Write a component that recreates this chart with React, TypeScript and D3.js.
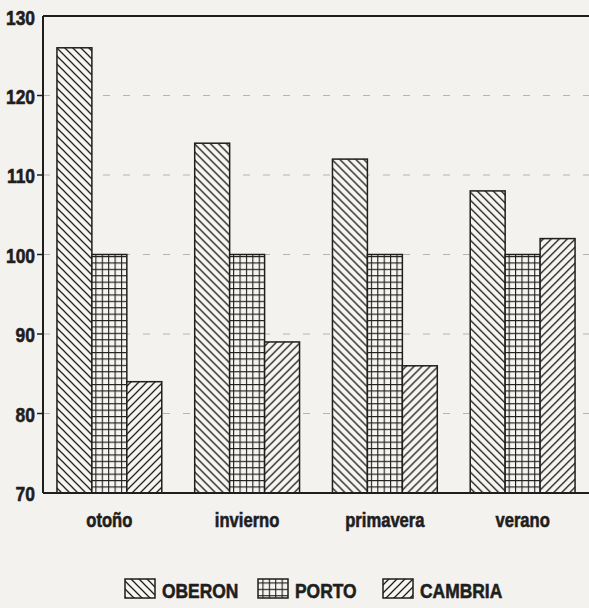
import React from "react";
import * as d3 from "d3";

const categories = ["otoño", "invierno", "primavera", "verano"];
const seriesNames = ["OBERON", "PORTO", "CAMBRIA"];
const oberon = [126, 114, 112, 108];
const porto = [100, 100, 100, 100];
const cambria = [84, 89, 86, 102];
const yTicks = [70, 80, 90, 100, 110, 120, 130];

const W = 589;
const H = 608;
const left = 43;
const top = 16;
const bottom = 493;
const right = 592;
const ink = "#1e1e1e";
const FONT = "'Liberation Sans', Arial, sans-serif";
const SX = 0.83;

function NarrowText(props: { x: number; y: number; size: number; anchor?: string; children: React.ReactNode }) {
  return (
    <text
      transform={`translate(${props.x},${props.y}) scale(${SX},1)`}
      textAnchor={props.anchor ?? "start"}
      fontFamily={FONT}
      fontWeight="bold"
      fontSize={props.size}
      fill={ink}
      stroke={ink}
      strokeWidth={0.6}
    >
      {props.children}
    </text>
  );
}

export default function App() {
  const values = [oberon, porto, cambria];
  const x = d3.scaleBand<string>().domain(categories).range([40, right]).paddingInner(0.239).paddingOuter(0.123);
  const xs = d3.scaleBand<string>().domain(seriesNames).range([0, x.bandwidth()]);
  const y = d3.scaleLinear().domain([70, 130]).range([bottom, top]);
  const patterns = ["pOb", "pPo", "pCa"];
  const legendX = [125, 258, 383];

  return (
    <div style={{ position: "fixed", left: 0, top: 0 }}>
      <svg width={W} height={H} style={{ display: "block", background: "#f4f2ee" }}>
        <defs>
          <pattern id="pOb" patternUnits="userSpaceOnUse" width={8} height={8}>
            <rect width={8} height={8} fill="#f7f5f1" />
            <path d="M-2,-2 L10,10 M-2,6 L2,10 M6,-2 L10,2" stroke={ink} strokeWidth={1.3} />
          </pattern>
          <pattern id="pPo" patternUnits="userSpaceOnUse" width={6.4} height={6.4}>
            <rect width={6.4} height={6.4} fill="#f7f5f1" />
            <path d="M0,0.5 H6.4 M0.5,0 V6.4" stroke={ink} strokeWidth={1.2} />
          </pattern>
          <pattern id="pCa" patternUnits="userSpaceOnUse" width={8} height={8}>
            <rect width={8} height={8} fill="#f7f5f1" />
            <path d="M-2,10 L10,-2 M-2,2 L2,-2 M6,10 L10,6" stroke={ink} strokeWidth={1.3} />
          </pattern>
        </defs>

        {/* grid lines */}
        {yTicks.slice(1, -1).map((t) => (
          <line key={"g" + t} x1={left} x2={W} y1={y(t)} y2={y(t)} stroke="#b4b4b4" strokeWidth={1} strokeDasharray="7,13" />
        ))}

        {/* bars */}
        {categories.map((c, i) => (
          <g key={c} transform={`translate(${x(c)},0)`}>
            {seriesNames.map((s, k) => (
              <rect
                key={s}
                x={xs(s)}
                y={y(values[k][i])}
                width={xs.bandwidth()}
                height={bottom - y(values[k][i])}
                fill={`url(#${patterns[k]})`}
                stroke={ink}
                strokeWidth={1.5}
              />
            ))}
          </g>
        ))}

        {/* axes frame */}
        <line x1={left} x2={left} y1={top} y2={bottom} stroke={ink} strokeWidth={2} />
        <line x1={left} x2={W} y1={top} y2={top} stroke={ink} strokeWidth={2} />
        <line x1={left} x2={W} y1={bottom} y2={bottom} stroke={ink} strokeWidth={2} />

        {/* y ticks */}
        {yTicks.map((t) => (
          <g key={"t" + t}>
            {t !== 70 && t !== 130 && <line x1={left - 6} x2={left} y1={y(t)} y2={y(t)} stroke={ink} strokeWidth={1.5} />}
            <NarrowText x={35} y={y(t) + (t === 130 ? 9 : 8)} size={21} anchor="end">
              {t}
            </NarrowText>
          </g>
        ))}

        {/* x labels */}
        {categories.map((c) => (
          <NarrowText key={"l" + c} x={(x(c) ?? 0) + x.bandwidth() / 2} y={527} size={20} anchor="middle">
            {c}
          </NarrowText>
        ))}

        {/* legend */}
        {seriesNames.map((s, k) => (
          <g key={"lg" + s}>
            <rect x={legendX[k]} y={579} width={30} height={19} fill={`url(#${patterns[k]})`} stroke={ink} strokeWidth={1.5} />
            <NarrowText x={legendX[k] + 37} y={598} size={21}>
              {s}
            </NarrowText>
          </g>
        ))}
      </svg>
    </div>
  );
}
